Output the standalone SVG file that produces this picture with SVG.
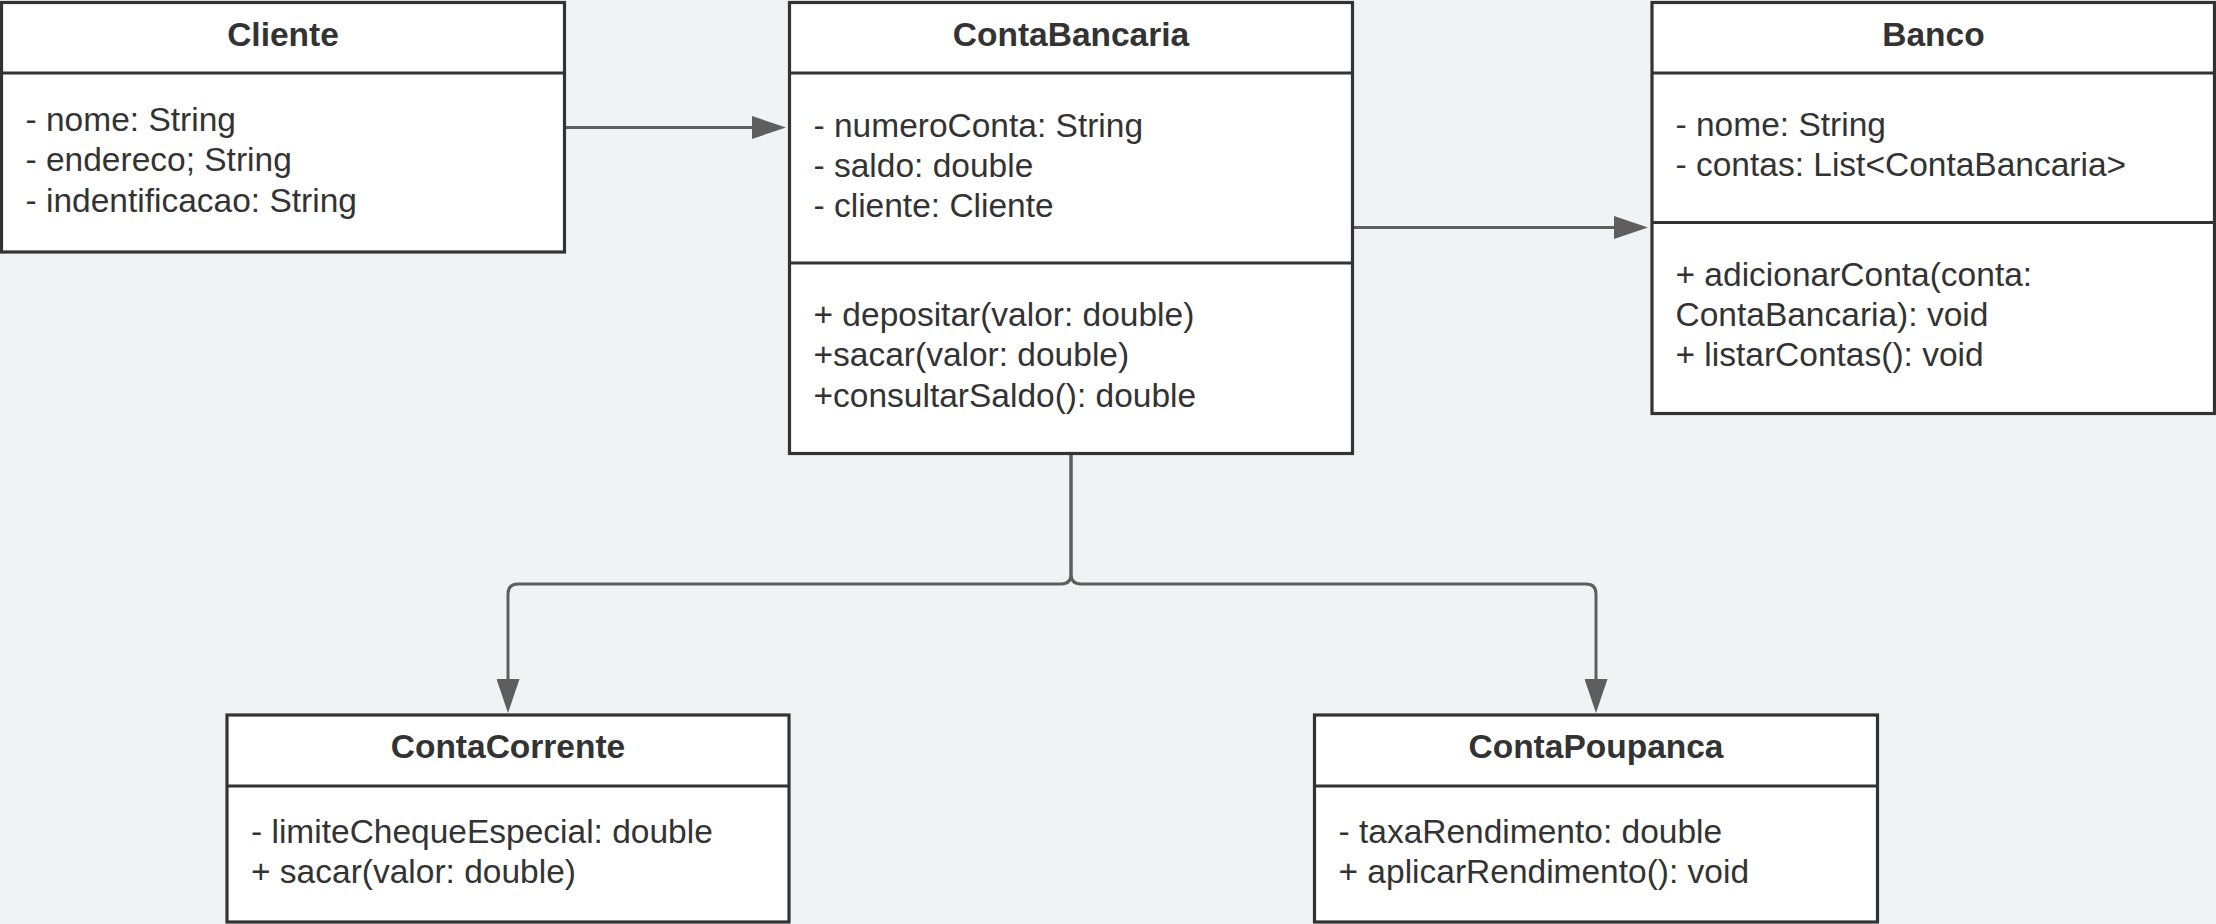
<svg xmlns="http://www.w3.org/2000/svg" width="2216" height="924" viewBox="0 0 2216 924">
<style>
.bg{fill:#f1f2f4}
.box{fill:#ffffff;stroke:#333333;stroke-width:3.2}
.sep{stroke:#333333;stroke-width:3.2}
.title{font-family:"Liberation Sans",Arial,sans-serif;font-size:33.5px;font-weight:bold;fill:#333333;text-anchor:middle}
.txt{font-family:"Liberation Sans",Arial,sans-serif;font-size:33.5px;fill:#333333}
.conn{fill:none;stroke:#5e5e5e;stroke-width:3}
</style>
<defs>
<marker id="arrow" viewBox="0 0 34 23" refX="4" refY="11.5" markerWidth="34" markerHeight="23" markerUnits="userSpaceOnUse" orient="auto">
<path d="M0,0 L34,11.5 L0,23 Z" fill="#5e5e5e"/>
</marker>
</defs>
<rect class="bg" x="0" y="0" width="2216" height="924"/>
<g id="connectors">
<path class="conn" d="M566,127.5 H756" marker-end="url(#arrow)"/>
<path class="conn" d="M1354,227.5 H1618" marker-end="url(#arrow)"/>
<path class="conn" d="M1071,455 V574 Q1071,584 1061,584 H518 Q508,584 508,594 V683" marker-end="url(#arrow)"/>
<path class="conn" d="M1071,455 V574 Q1071,584 1081,584 H1586 Q1596,584 1596,594 V683" marker-end="url(#arrow)"/>
</g>
<g id="Cliente">
<rect class="box" x="1.5" y="2.5" width="563" height="249.5"/>
<line class="sep" x1="1.5" y1="73" x2="564.5" y2="73"/>
<text class="title" x="283" y="45.5">Cliente</text>
<text class="txt" x="25.5" y="131">- nome: String</text>
<text class="txt" x="25.5" y="171.3">- endereco; String</text>
<text class="txt" x="25.5" y="211.6">- indentificacao: String</text>
</g>
<g id="ContaBancaria">
<rect class="box" x="789.5" y="2.5" width="563" height="451"/>
<line class="sep" x1="789.5" y1="73" x2="1352.5" y2="73"/>
<line class="sep" x1="789.5" y1="263" x2="1352.5" y2="263"/>
<text class="title" x="1071" y="45.5">ContaBancaria</text>
<text class="txt" x="813.5" y="136.5">- numeroConta: String</text>
<text class="txt" x="813.5" y="176.8">- saldo: double</text>
<text class="txt" x="813.5" y="217.1">- cliente: Cliente</text>
<text class="txt" x="813.5" y="326">+ depositar(valor: double)</text>
<text class="txt" x="813.5" y="366.3">+sacar(valor: double)</text>
<text class="txt" x="813.5" y="406.6">+consultarSaldo(): double</text>
</g>
<g id="Banco">
<rect class="box" x="1652" y="2.5" width="562.5" height="411"/>
<line class="sep" x1="1652" y1="73" x2="2214.5" y2="73"/>
<line class="sep" x1="1652" y1="222.5" x2="2214.5" y2="222.5"/>
<text class="title" x="1933.5" y="45.5">Banco</text>
<text class="txt" x="1675.5" y="136">- nome: String</text>
<text class="txt" x="1675.5" y="176.3">- contas: List&lt;ContaBancaria&gt;</text>
<text class="txt" x="1675.5" y="285.5">+ adicionarConta(conta:</text>
<text class="txt" x="1675.5" y="325.8">ContaBancaria): void</text>
<text class="txt" x="1675.5" y="366.1">+ listarContas(): void</text>
</g>
<g id="ContaCorrente">
<rect class="box" x="227" y="715" width="562" height="207"/>
<line class="sep" x1="227" y1="786" x2="789" y2="786"/>
<text class="title" x="508" y="757.5">ContaCorrente</text>
<text class="txt" x="251" y="843">- limiteChequeEspecial: double</text>
<text class="txt" x="251" y="883.3">+ sacar(valor: double)</text>
</g>
<g id="ContaPoupanca">
<rect class="box" x="1314.5" y="715" width="563" height="207"/>
<line class="sep" x1="1314.5" y1="786" x2="1877.5" y2="786"/>
<text class="title" x="1596" y="757.5">ContaPoupanca</text>
<text class="txt" x="1338.5" y="843">- taxaRendimento: double</text>
<text class="txt" x="1338.5" y="883.3">+ aplicarRendimento(): void</text>
</g>
</svg>
